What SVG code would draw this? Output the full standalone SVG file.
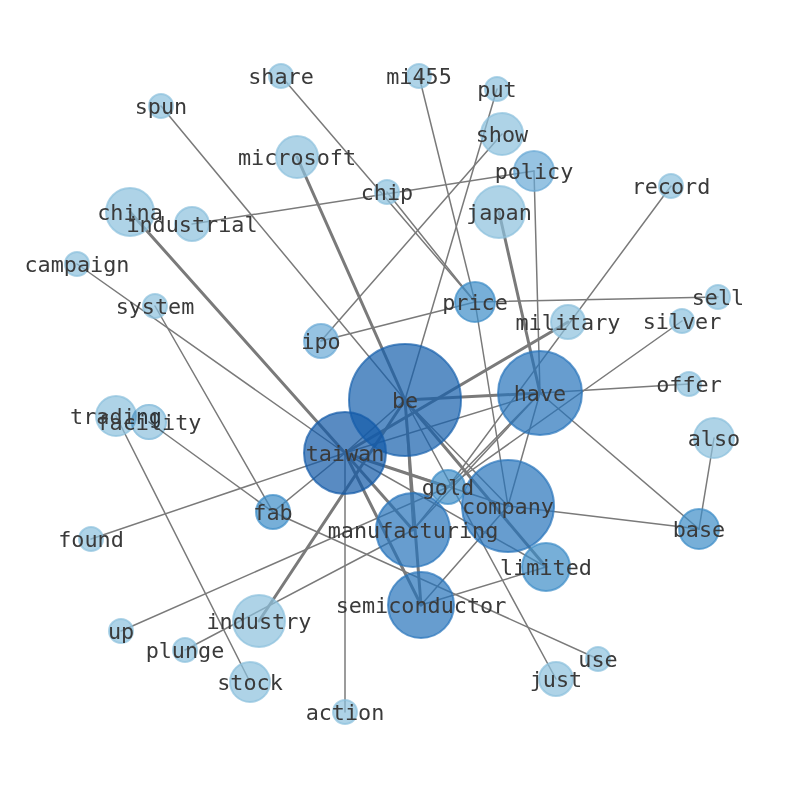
<svg xmlns="http://www.w3.org/2000/svg" width="794" height="790" viewBox="0 0 794 790">
<style>
.e{stroke:#7a7a7a;stroke-width:1.5;fill:none;stroke-linecap:round}
.t{stroke-width:3}
circle{fill-opacity:.7;stroke-opacity:.7;stroke-width:2}
.c1{fill:#8cc0dd;stroke:#8cc0dd}
.c2{fill:#6aaad6;stroke:#6aaad6}
.c3{fill:#3d8dc7;stroke:#3d8dc7}
.c4{fill:#2774bb;stroke:#2774bb}
.c5{fill:#155fac;stroke:#155fac}
.c6{fill:#125aa8;stroke:#125aa8}
circle.mb{fill:#afd3e7;stroke:#96c5e0;fill-opacity:1;stroke-opacity:1;mix-blend-mode:multiply}
text{font-family:"DejaVu Sans Mono","Liberation Mono",monospace;font-size:21.8px;fill:#3a3a3a;text-anchor:middle;dominant-baseline:central}
</style>
<rect width="794" height="790" fill="#fff"/>
<g id="edges">
<line class="e" x1="281" y1="76" x2="475" y2="302"/>
<line class="e" x1="387" y1="192" x2="475" y2="302"/>
<line class="e" x1="161" y1="106" x2="405" y2="400"/>
<line class="e" x1="497" y1="89" x2="405" y2="400"/>
<line class="e" x1="419" y1="76" x2="475" y2="302"/>
<line class="e" x1="502" y1="134" x2="321" y2="341"/>
<line class="e" x1="321" y1="341" x2="475" y2="302"/>
<line class="e" x1="475" y1="302" x2="718" y2="297"/>
<line class="e" x1="475" y1="302" x2="508" y2="506"/>
<line class="e" x1="192" y1="224" x2="534" y2="171"/>
<line class="e" x1="534" y1="171" x2="540" y2="393"/>
<line class="e" x1="77" y1="264" x2="345" y2="453"/>
<line class="e" x1="155" y1="306" x2="273" y2="512"/>
<line class="e" x1="671" y1="186" x2="448" y2="487"/>
<line class="e" x1="682" y1="321" x2="448" y2="487"/>
<line class="e" x1="689" y1="384" x2="540" y2="393"/>
<line class="e" x1="714" y1="438" x2="699" y2="529"/>
<line class="e" x1="699" y1="529" x2="540" y2="393"/>
<line class="e" x1="699" y1="529" x2="508" y2="506"/>
<line class="e" x1="116" y1="416" x2="250" y2="682"/>
<line class="e" x1="149" y1="422" x2="273" y2="512"/>
<line class="e" x1="273" y1="512" x2="598" y2="659"/>
<line class="e" x1="273" y1="512" x2="345" y2="453"/>
<line class="e" x1="91" y1="539" x2="345" y2="453"/>
<line class="e" x1="121" y1="631" x2="448" y2="487"/>
<line class="e" x1="185" y1="650" x2="413" y2="530"/>
<line class="e" x1="345" y1="712" x2="345" y2="453"/>
<line class="e" x1="556" y1="679" x2="405" y2="400"/>
<line class="e" x1="345" y1="453" x2="540" y2="393"/>
<line class="e" x1="345" y1="453" x2="546" y2="567"/>
<line class="e" x1="345" y1="453" x2="508" y2="506"/>
<line class="e" x1="540" y1="393" x2="448" y2="487"/>
<line class="e" x1="540" y1="393" x2="508" y2="506"/>
<line class="e" x1="540" y1="393" x2="413" y2="530"/>
<line class="e" x1="508" y1="506" x2="421" y2="605"/>
<line class="e" x1="546" y1="567" x2="421" y2="605"/>
<line class="e" x1="405" y1="400" x2="413" y2="530"/>
<line class="e" x1="405" y1="400" x2="508" y2="506"/>
<line class="e" x1="448" y1="487" x2="413" y2="530"/>
<line class="e t" x1="297" y1="157" x2="405" y2="400"/>
<line class="e t" x1="499" y1="212" x2="540" y2="393"/>
<line class="e t" x1="130" y1="212" x2="345" y2="453"/>
<line class="e t" x1="259" y1="621" x2="405" y2="400"/>
<line class="e t" x1="405" y1="400" x2="540" y2="393"/>
<line class="e t" x1="405" y1="400" x2="421" y2="605"/>
<line class="e t" x1="568" y1="322" x2="345" y2="453"/>
<line class="e t" x1="405" y1="400" x2="546" y2="567"/>
<line class="e t" x1="345" y1="453" x2="421" y2="605"/>
<line class="e t" x1="345" y1="453" x2="448" y2="487"/>
<line class="e t" x1="345" y1="453" x2="413" y2="530"/>
<line class="e" x1="345" y1="453" x2="405" y2="400"/>
</g>
<g id="node-be"><circle class="c5" cx="405" cy="400" r="56"/><text x="405" y="400">be</text></g>
<g id="node-taiwan"><circle class="c6" cx="345" cy="453" r="41"/><text x="345" y="453">taiwan</text></g>
<g id="node-have"><circle class="c4" cx="540" cy="393" r="42"/><text x="540" y="393">have</text></g>
<g id="node-company"><circle class="c4" cx="508" cy="506" r="46"/><text x="508" y="506">company</text></g>
<g id="node-limited"><circle class="c3" cx="546" cy="567" r="24"/><text x="546" y="567">limited</text></g>
<g id="node-semiconductor"><circle class="c4" cx="421" cy="605" r="33"/><text x="421" y="605">semiconductor</text></g>
<g id="node-manufacturing"><circle class="c4" cx="413" cy="530" r="37"/><text x="413" y="530">manufacturing</text></g>
<g id="node-gold"><circle class="c3" cx="448" cy="487" r="17"/><text x="448" y="487">gold</text></g>
<g id="node-fab"><circle class="c3" cx="273" cy="512" r="17"/><text x="273" y="512">fab</text></g>
<g id="node-price"><circle class="c3" cx="475" cy="302" r="20"/><text x="475" y="302">price</text></g>
<g id="node-ipo"><circle class="c2" cx="321" cy="341" r="17"/><text x="321" y="341">ipo</text></g>
<g id="node-policy"><circle class="c2" cx="534" cy="171" r="20"/><text x="534" y="171">policy</text></g>
<g id="node-japan"><circle class="c1" cx="499" cy="212" r="26"/><text x="499" y="212">japan</text></g>
<g id="node-show"><circle class="c1" cx="502" cy="134" r="21"/><text x="502" y="134">show</text></g>
<g id="node-put"><circle class="c1" cx="497" cy="89" r="12"/><text x="497" y="89">put</text></g>
<g id="node-mi455"><circle class="c1" cx="419" cy="76" r="12"/><text x="419" y="76">mi455</text></g>
<g id="node-share"><circle class="c1" cx="281" cy="76" r="12"/><text x="281" y="76">share</text></g>
<g id="node-spun"><circle class="c1" cx="161" cy="106" r="12"/><text x="161" y="106">spun</text></g>
<g id="node-microsoft"><circle class="c1" cx="297" cy="157" r="21"/><text x="297" y="157">microsoft</text></g>
<g id="node-chip"><circle class="c1" cx="387" cy="192" r="12"/><text x="387" y="192">chip</text></g>
<g id="node-china"><circle class="c1" cx="130" cy="212" r="24"/><text x="130" y="212">china</text></g>
<g id="node-industrial"><circle class="c1" cx="192" cy="224" r="17"/><text x="192" y="224">industrial</text></g>
<g id="node-campaign"><circle class="c1" cx="77" cy="264" r="12"/><text x="77" y="264">campaign</text></g>
<g id="node-system"><circle class="c1" cx="155" cy="306" r="12"/><text x="155" y="306">system</text></g>
<g id="node-record"><circle class="c1" cx="671" cy="186" r="12"/><text x="671" y="186">record</text></g>
<g id="node-sell"><circle class="c1" cx="718" cy="297" r="12"/><text x="718" y="297">sell</text></g>
<g id="node-military"><circle class="c1" cx="568" cy="322" r="17"/><text x="568" y="322">military</text></g>
<g id="node-silver"><circle class="c1" cx="682" cy="321" r="12"/><text x="682" y="321">silver</text></g>
<g id="node-offer"><circle class="c1" cx="689" cy="384" r="12"/><text x="689" y="384">offer</text></g>
<g id="node-also"><circle class="c1" cx="714" cy="438" r="20"/><text x="714" y="438">also</text></g>
<g id="node-base"><circle class="c3" cx="699" cy="529" r="20"/><text x="699" y="529">base</text></g>
<g id="node-trading"><circle class="c1" cx="116" cy="416" r="20"/><text x="116" y="416">trading</text></g>
<g id="node-facility"><circle class="mb" cx="149" cy="422" r="17"/><text x="149" y="422">facility</text></g>
<g id="node-found"><circle class="c1" cx="91" cy="539" r="12"/><text x="91" y="539">found</text></g>
<g id="node-up"><circle class="c1" cx="121" cy="631" r="12"/><text x="121" y="631">up</text></g>
<g id="node-plunge"><circle class="c1" cx="185" cy="650" r="12"/><text x="185" y="650">plunge</text></g>
<g id="node-industry"><circle class="c1" cx="259" cy="621" r="26"/><text x="259" y="621">industry</text></g>
<g id="node-stock"><circle class="c1" cx="250" cy="682" r="20"/><text x="250" y="682">stock</text></g>
<g id="node-action"><circle class="c1" cx="345" cy="712" r="12"/><text x="345" y="712">action</text></g>
<g id="node-just"><circle class="c1" cx="556" cy="679" r="17"/><text x="556" y="679">just</text></g>
<g id="node-use"><circle class="c1" cx="598" cy="659" r="12"/><text x="598" y="659">use</text></g>
</svg>
